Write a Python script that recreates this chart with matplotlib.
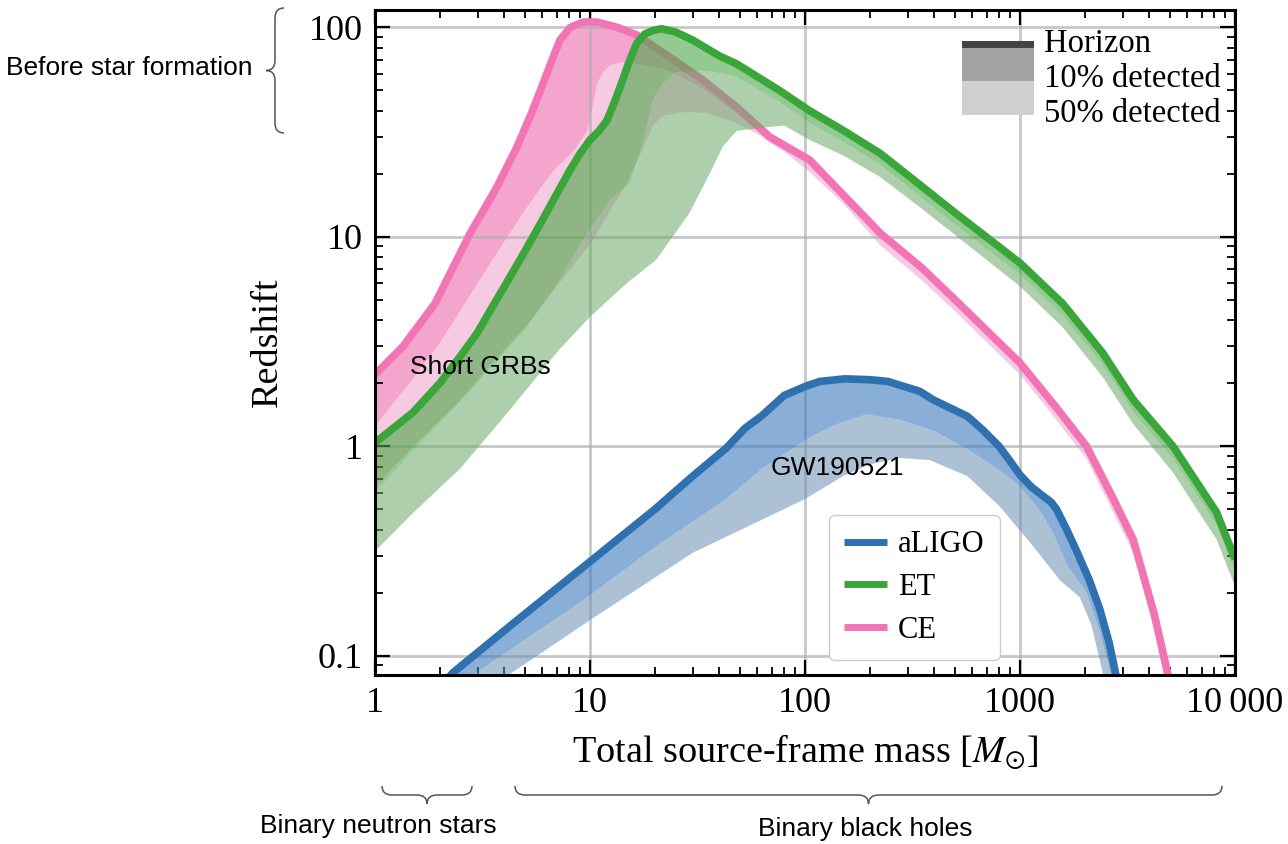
import numpy as np
import matplotlib
matplotlib.use("Agg")
import matplotlib.pyplot as plt
from matplotlib.path import Path
from matplotlib.patches import PathPatch, Rectangle
from matplotlib.legend_handler import HandlerBase
from matplotlib.ticker import NullFormatter

# --- data: total mass [Msun] vs redshift -----------------------------------
# CE
CE_HOR_M = [1.0, 1.35, 1.9, 2.77, 3.69, 4.57, 5.4, 6.05, 6.65, 7.25, 8.1, 9.3,
            10.8, 13.4, 16.5, 23.5, 33.5, 48, 68.5, 105, 224, 350, 500, 1000,
            1500, 2040, 2700, 3360, 4200, 4900, 5100]
CE_HOR_Z = [2.2, 3.0, 4.8, 10.4, 17.3, 26.8, 40, 54, 69.5, 87, 100, 106,
            106, 100, 92, 72, 56, 41.7, 30, 23.3, 10.4, 7.1, 5.0, 2.5,
            1.5, 1.0, 0.57, 0.36, 0.16, 0.08, 0.07]
CE_10_M = [1.0, 1.5, 2.0, 3.0, 4.0, 5.0, 6.0, 7.0, 8.5, 9.7, 10.3, 10.8, 11.5,
           12.4, 14, 16.5, 23.5, 33.5, 48, 68.5, 105, 224, 350, 500, 1000,
           1500, 2040, 2700, 3360, 4200, 4900, 5050]
CE_10_Z = [1.25, 2.1, 3.1, 6.0, 9.5, 13.5, 17.5, 21.5, 26, 32, 42, 54, 61,
           66, 68, 67, 62, 51, 39, 28.4, 22.2, 9.9, 6.8, 4.8, 2.4,
           1.43, 0.95, 0.54, 0.34, 0.15, 0.074, 0.068]
CE_50_M = [1.0, 1.5, 2.48, 3.5, 5.1, 7.0, 10, 12.5, 15, 17.5, 19.6, 22, 28, 35,
           48, 60, 80, 105, 150, 224, 350, 500, 1000, 1500, 2040, 2700, 3360,
           4200, 4800]
CE_50_Z = [0.64, 1.0, 1.65, 2.5, 3.8, 5.8, 9.2, 13.5, 18.5, 26, 34, 38, 39.5,
           39, 35, 31, 25.5, 20.4, 14.5, 9.1, 6.2, 4.4, 2.2, 1.31, 0.87, 0.49,
           0.31, 0.135, 0.07]

# ET
ET_HOR_M = [1.0, 1.5, 2.0, 2.5, 3.0, 3.5, 4.0, 5.0, 6.0, 7.0, 8.0, 9.0, 10, 11,
            12, 13, 14, 15, 16.5, 18, 19.6, 21.5, 25, 30, 40, 48, 76, 105, 150,
            224, 350, 500, 1000, 1580, 2420, 3360, 5150, 8200, 10000]
ET_HOR_Z = [1.04, 1.45, 2.0, 2.7, 3.5, 4.6, 5.8, 8.6, 12.0, 16.0, 20.5, 25,
            29, 32, 36, 44, 54, 66, 84, 93, 96.5, 98.5, 95, 87, 73, 67, 50, 40,
            32.3, 25, 17.4, 13, 7.5, 4.8, 2.8, 1.67, 1.0, 0.485, 0.29]
ET_10_M = [1.0, 1.5, 2.48, 3.5, 5.1, 7.0, 9.3, 12.4, 15.3, 17.6, 19.6, 21.8,
           25, 35, 48, 76, 105, 150, 224, 350, 500, 1000, 1580, 2420, 3360,
           5150, 8200, 10000]
ET_10_Z = [0.6, 0.95, 1.62, 2.4, 3.7, 5.9, 9.7, 15, 18, 28, 45, 54,
           61, 62, 58, 44, 35, 28.5, 22, 15.3, 11.4, 6.6, 4.2, 2.45, 1.46,
           0.87, 0.42, 0.25]
ET_50_M = [1.0, 1.5, 2.48, 4.0, 7.2, 10, 14.8, 20.4, 29, 36, 41.5, 48, 60, 80,
           105, 150, 224, 350, 500, 1000, 1580, 2420, 3360, 5150, 8200, 10000]
ET_50_Z = [0.316, 0.48, 0.78, 1.39, 2.9, 4.15, 6.0, 7.8, 13, 20, 27, 32, 33,
           34, 29, 24.5, 19.3, 13.6, 10.2, 5.8, 3.7, 2.15, 1.28, 0.75, 0.36,
           0.215]

# aLIGO
LIGO_HOR_M = [2.0, 2.3, 4.4, 9.5, 20, 30, 43, 52.6, 63, 80, 100, 117, 153, 200,
              243, 342, 394, 570, 670, 800, 900, 1000, 1130, 1250, 1400, 1480,
              1650, 1850, 2100, 2350, 2600, 2800, 2900]
LIGO_HOR_Z = [0.07, 0.083, 0.143, 0.27, 0.5, 0.72, 0.98, 1.22, 1.4, 1.75, 1.93,
              2.04, 2.1, 2.08, 2.04, 1.83, 1.67, 1.39, 1.2, 1.0, 0.85, 0.73,
              0.64, 0.59, 0.54, 0.5, 0.4, 0.31, 0.23, 0.167, 0.115, 0.08, 0.07]
LIGO_10_M = [2.6, 2.8, 9.5, 20, 43, 63, 100, 136, 192, 275, 394, 570, 800,
             1000, 1250, 1420, 1660, 2040, 2350, 2700, 2750]
LIGO_10_Z = [0.07, 0.08, 0.187, 0.33, 0.56, 0.78, 1.07, 1.26, 1.42, 1.34, 1.19,
             0.97, 0.77, 0.645, 0.485, 0.39, 0.27, 0.2, 0.13, 0.075, 0.07]
LIGO_50_M = [3.9, 4.1, 10.2, 30, 100, 150, 200, 275, 380, 570, 800, 1150, 1530,
             1900, 2150, 2420, 2500]
LIGO_50_Z = [0.07, 0.08, 0.15, 0.31, 0.56, 0.72, 0.82, 0.88, 0.86, 0.72, 0.52,
             0.334, 0.23, 0.19, 0.14, 0.084, 0.07]

DETECTORS = ["aLIGO", "ET", "CE"]
LEVELS = ["Horizon", "10% detected", "50% detected"]
XTICKS = [1, 10, 100, 1000, 10000]
XTICK_LABELS = ["1", "10", "100", "1000", "10\u2009000"]
YTICKS = [0.1, 1, 10, 100]
YTICK_LABELS = ["0.1", "1", "10", "100"]

W, H = 1288, 844
SERIF = ["Liberation Serif", "DejaVu Serif"]
SANS = ["Liberation Sans", "DejaVu Sans"]

plt.rcParams["font.family"] = SERIF
plt.rcParams["mathtext.fontset"] = "stix"


def fig_xy(x, y):
    return x / W, 1 - y / H


def brace(fig, a, b, normal, depth, q):
    """Curly brace from pixel point a to b, tip pushed `depth` px along normal."""
    a, b, n = np.asarray(a, float), np.asarray(b, float), np.asarray(normal, float)
    L = np.hypot(*(b - a))
    t = (b - a) / L
    h = depth / 2
    uv = [(0, 0), (0, h), (q, h), (L / 2 - q, h), (L / 2, h), (L / 2, depth),
          (L / 2, h), (L / 2 + q, h), (L - q, h), (L, h), (L, 0)]
    pts = [fig_xy(*(a + u * t + v * n)) for u, v in uv]
    codes = [Path.MOVETO, Path.CURVE3, Path.CURVE3, Path.LINETO, Path.CURVE3,
             Path.CURVE3, Path.CURVE3, Path.CURVE3, Path.LINETO, Path.CURVE3,
             Path.CURVE3]
    fig.patches.append(PathPatch(Path(pts, codes), fill=False, ec="#555555",
                                 lw=1.1, transform=fig.transFigure))


class BandHandler(HandlerBase):
    """Legend handle made of stacked bars, given as (y0, y1, color) in row units."""

    def __init__(self, bars):
        super().__init__()
        self.bars = bars

    def create_artists(self, legend, orig_handle, xdescent, ydescent, width,
                       height, fontsize, trans):
        return [Rectangle((-xdescent, -ydescent + y0 * height), width,
                          (y1 - y0) * height, fc=c, ec="none", transform=trans)
                for y0, y1, c in self.bars]


def band(ax, m_a, z_a, m_b, z_b, color, alpha, zorder):
    ax.fill(np.r_[m_a, m_b[::-1]], np.r_[z_a, z_b[::-1]], color=color,
            alpha=alpha, lw=0, zorder=zorder)


fig = plt.figure(figsize=(W / 100, H / 100), dpi=100)
ax = fig.add_axes([375 / W, 1 - 675 / H, 860 / W, 665 / H])
ax.set_xscale("log")
ax.set_yscale("log")

specs = [
    ("CE", CE_HOR_M, CE_HOR_Z, CE_10_M, CE_10_Z, CE_50_M, CE_50_Z,
     "#f274b5", "#ee6aae", "#f0a0c8", 1.0),
    ("ET", ET_HOR_M, ET_HOR_Z, ET_10_M, ET_10_Z, ET_50_M, ET_50_Z,
     "#3aa63a", "#4aa848", "#6aa868", 1.2),
    ("aLIGO", LIGO_HOR_M, LIGO_HOR_Z, LIGO_10_M, LIGO_10_Z, LIGO_50_M,
     LIGO_50_Z, "#2f70b0", "#3a7bbf", "#6b8fb3", 1.4),
]
handles = {}
for name, hm, hz, m10, z10, m50, z50, lc, mc, pc, zo in specs:
    hm, hz, m10, z10, m50, z50 = map(np.asarray, (hm, hz, m10, z10, m50, z50))
    band(ax, m10, z10, m50, z50, pc, 0.55, zo)
    band(ax, hm, hz, m10, z10, mc, 0.6, zo + 0.01)
    (ln,) = ax.plot(hm, hz, color=lc, lw=5.5, solid_capstyle="butt",
                    solid_joinstyle="round", zorder=zo + 0.1, label=name)
    handles[name] = ln

ax.set_xlim(1, 1e4)
ax.set_ylim(0.081, 121)

ax.set_xticks(XTICKS, XTICK_LABELS)
ax.set_yticks(YTICKS, YTICK_LABELS)
ax.xaxis.set_minor_formatter(NullFormatter())
ax.yaxis.set_minor_formatter(NullFormatter())
ax.tick_params(which="both", direction="in", top=True, right=True,
               labelsize=26, pad=9)
ax.tick_params(which="major", length=11, width=1.6)
ax.tick_params(which="minor", length=6, width=1.3)
ax.grid(which="major", color="#b0b0b0", lw=2.0, alpha=0.7)
ax.xaxis.set_zorder(1.05)
ax.yaxis.set_zorder(1.05)
for sp in ax.spines.values():
    sp.set_linewidth(2.2)

ax.set_xlabel(r"Total source-frame mass [$M_{\odot}$]", fontsize=27.5)
ax.set_ylabel("Redshift", fontsize=27.5)
ax.xaxis.set_label_coords(0.5, -0.085)
ax.yaxis.set_label_coords(-0.105, 0.5)

# annotations inside the axes
ax.text(1.45, 2.38, "Short GRBs", family=SANS, fontsize=19, va="center",
        zorder=6)
ax.text(69.5, 0.79, "GW190521", family=SANS, fontsize=19, va="center",
        zorder=6)

# legend: detection levels, handles stacked like one shaded column
dark, mid, light = "#444444", "#a3a3a3", "#cfcfcf"
lev_handles = [Rectangle((0, 0), 1, 1) for _ in LEVELS]
lev_bars = [
    [(-0.1, 0.3, mid), (0.3, 0.52, dark)],
    [(-0.1, 0.37, light), (0.37, 1.1, mid)],
    [(0.37, 1.1, light)],
]
lev = ax.legend(
    lev_handles, LEVELS,
    handler_map={h: BandHandler(b) for h, b in zip(lev_handles, lev_bars)},
    loc="upper right", bbox_to_anchor=(1.0, 1.0), frameon=False, fontsize=23.5,
    labelspacing=0, handlelength=2.2, handleheight=1.2, handletextpad=0.3,
    borderpad=0.15, borderaxespad=0.3,
)
ax.add_artist(lev)

leg = ax.legend([handles[d] for d in DETECTORS], DETECTORS, loc="lower left",
                bbox_to_anchor=((829 - 375) / 860, (675 - 660) / 665),
                borderaxespad=0, fontsize=22, handlelength=1.4,
                handletextpad=0.35, labelspacing=0.45, borderpad=0.5,
                framealpha=1, edgecolor="#cccccc", fancybox=True)
for lh in leg.legend_handles:
    lh.set_linewidth(5)

# outside annotations and braces
fig.text(*fig_xy(252, 68), "Before star formation", family=SANS, fontsize=19,
         ha="right", va="center")
fig.text(*fig_xy(378, 826), "Binary neutron stars", family=SANS, fontsize=19,
         ha="center", va="center")
fig.text(*fig_xy(865, 829), "Binary black holes", family=SANS, fontsize=19,
         ha="center", va="center")
brace(fig, (284, 8), (284, 133), (-1, 0), 18, 10)
brace(fig, (382, 786), (472, 786), (0, 1), 18, 10)
brace(fig, (515, 786), (1222, 786), (0, 1), 18, 10)

fig.savefig("out.png", dpi=100)
